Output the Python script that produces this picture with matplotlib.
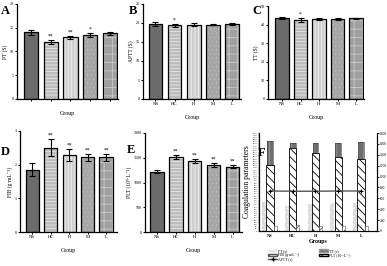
import numpy as np
import matplotlib
matplotlib.use("Agg")
import matplotlib.pyplot as plt
from matplotlib.patches import Patch
from matplotlib.lines import Line2D

plt.rcParams["font.family"] = ["Liberation Serif", "DejaVu Serif"]
plt.rcParams["hatch.linewidth"] = 0.6

groups = ["NS", "HC", "H", "M", "L"]

pt = [14.0, 12.0, 13.0, 13.5, 13.8]
pt_err = [0.5, 0.4, 0.3, 0.4, 0.3]
pt_sig = ["", "**", "**", "*", ""]

aptt = [19.8, 19.4, 19.6, 19.6, 19.7]
aptt_err = [0.5, 0.4, 0.3, 0.2, 0.3]
aptt_sig = ["", "*", "", "", ""]

tt = [43.5, 42.5, 42.8, 43.0, 43.3]
tt_err = [0.5, 1.0, 0.5, 0.5, 0.3]
tt_sig = ["", "*", "", "", ""]

fib = [1.85, 2.5, 2.28, 2.22, 2.22]
fib_err = [0.2, 0.25, 0.18, 0.1, 0.1]
fib_sig = ["", "**", "**", "**", "**"]

plt_cnt = [1220, 1520, 1440, 1360, 1320]
plt_err = [30, 40, 40, 40, 30]
plt_sig = ["", "**", "**", "**", "**"]

# panel F (scaled values as drawn on the combined chart)
f_pt = [530, 460, 490, 510, 515]
f_tt = [1650, 1610, 1610, 1620, 1640]
f_fib = [90, 110, 100, 95, 95]
f_plt = [1220, 1520, 1440, 1360, 1320]
f_aptt = [735, 730, 730, 735, 735]

styles = [
    dict(face="#6b6b6b", hatch=None, hc=None),
    dict(face="#bcbcbc", hatch="-----", hc="#e8e8e8"),
    dict(face="#cfcfcf", hatch="|||||", hc="#f0f0f0"),
    dict(face="#a6a6a6", hatch="....", hc="#b8b8b8"),
    dict(face="#a0a0a0", hatch="++", hc="#c8c8c8"),
]

W, H = 387, 266
fig = plt.figure(figsize=(W / 100, H / 100), dpi=100)


def px_axes(l, t, r, b):
    return fig.add_axes([l / W, 1 - b / H, (r - l) / W, (b - t) / H])


def bar_panel(ax, vals, errs, sigs, ymax, step, ylabel, xlabels=True, lpad=-0.68, rpad=4.45):
    x = np.arange(len(groups))
    for i, v in enumerate(vals):
        s = styles[i]
        if s["hatch"]:
            ax.bar(x[i], v, 0.72, color=s["face"], edgecolor=s["hc"], hatch=s["hatch"], lw=0, zorder=2)
        else:
            ax.bar(x[i], v, 0.72, color=s["face"], lw=0, zorder=2)
        ax.bar(x[i], v, 0.72, fill=False, edgecolor="black", lw=0.9, zorder=3)
    ax.errorbar(x, vals, yerr=errs, fmt="none", ecolor="black", elinewidth=0.8, capsize=2.2, capthick=0.8, zorder=4)
    for i, s in enumerate(sigs):
        if s:
            ax.text(x[i], vals[i] + errs[i] + ymax * 0.015, s, ha="center", va="bottom", fontsize=4)
    ax.set_ylim(0, ymax)
    ax.set_xlim(lpad, rpad)
    ax.set_yticks(np.arange(0, ymax + step / 2, step))
    ax.set_xticks(x)
    if xlabels:
        ax.set_xticklabels(groups)
    else:
        ax.set_xticklabels([])
    for sp in ["top", "right"]:
        ax.spines[sp].set_visible(False)
    for sp in ["left", "bottom"]:
        ax.spines[sp].set_linewidth(0.9)
    ax.tick_params(labelsize=3.0, length=1.6, width=0.7, pad=0.8)
    ax.tick_params(axis="x", labelsize=3.4)
    ax.set_ylabel(ylabel, fontsize=4.0, labelpad=1)
    ax.set_xlabel("Group", fontsize=4.2, labelpad=6)


axA = px_axes(17, 4, 118, 99)
bar_panel(axA, pt, pt_err, pt_sig, 20, 5, "PT (S)", xlabels=False, lpad=-0.7, rpad=4.4)
axB = px_axes(143, 4, 241, 99)
bar_panel(axB, aptt, aptt_err, aptt_sig, 25, 5, "APTT (S)", lpad=-0.65, rpad=4.47)
axC = px_axes(268, 6, 364, 99)
bar_panel(axC, tt, tt_err, tt_sig, 50, 10, "TT (S)", lpad=-0.76, rpad=4.43)
axD = px_axes(20, 131, 117, 232)
bar_panel(axD, fib, fib_err, fib_sig, 3, 1, "FIB (g\u00b7mL\u207b\u00b9)", lpad=-0.67, rpad=4.59)
axE = px_axes(145, 133, 242, 232)
bar_panel(axE, plt_cnt, plt_err, plt_sig, 2000, 500, "PLT (10\u2079\u00b7L\u207b\u00b9)", lpad=-0.62, rpad=4.5)

# panel F
axF = px_axes(259, 133, 377, 231)
x = np.arange(len(groups))
axF.bar(x - 0.26, f_pt, 0.18, color="#dcdcdc", edgecolor="#f4f4f4", hatch="....", lw=0, zorder=2)
axF.bar(x, f_tt, 0.26, color="#6e6e6e", edgecolor="#9a9a9a", hatch="|||", lw=0, zorder=2)
axF.bar(x, f_tt, 0.26, fill=False, edgecolor="#333333", lw=0.4, zorder=2)
axF.bar(x, f_plt, 0.32, color="white", edgecolor="black", hatch="\\\\\\\\", lw=0.6, zorder=3)
axF.bar(x + 0.23, f_fib, 0.13, color="white", edgecolor="#555555", hatch="////", lw=0.4, zorder=3)
axF.plot(x, f_aptt, color="#555555", lw=1.0, marker="+", ms=3, mec="black", mew=0.8, zorder=5)
axF.set_xlim(-0.48, 4.7)
axF.set_ylim(0, 1800)
axF.set_xticks(x)
axF.set_xticklabels(groups, fontweight="bold")
axF.set_yticks(np.arange(0, 1801, 40))
axF.set_yticklabels([str(v) for v in np.arange(0, 1801, 40)])
axF.tick_params(axis="y", labelsize=1.6, length=0.8, width=0.3, pad=0.5)
axF.tick_params(axis="x", labelsize=3.2, length=0, pad=2)
axF.set_ylabel("Coagulation parameters", fontsize=5.5, labelpad=1)
axF.set_xlabel("Groups", fontsize=4.2, fontweight="bold", labelpad=1)
axF.spines["top"].set_visible(False)
for sp in ["left", "bottom", "right"]:
    axF.spines[sp].set_linewidth(0.8)

axR = axF.twinx()
axR.set_ylim(0, 1800)
axR.set_yticks(np.arange(0, 1801, 200))
axR.tick_params(labelsize=2.6, length=1.2, width=0.6, pad=0.6)
axR.spines["top"].set_visible(False)
axR.spines["right"].set_linewidth(0.8)

handles = [
    Patch(facecolor="#dcdcdc", edgecolor="#f4f4f4", hatch="...."),
    Patch(facecolor="white", edgecolor="#555555", hatch="////"),
    Line2D([0], [0], color="#555555", lw=1.0, marker="+", ms=3, mec="black"),
    Patch(facecolor="#6e6e6e", edgecolor="#9a9a9a", hatch="|||"),
    Patch(facecolor="white", edgecolor="black", hatch="\\\\\\\\"),
]
labels = ["PT (s)", "FIB (g\u00b7mL\u207b\u00b9)", "APTT (s)", "TT (s)", "PLT (10\u2079\u00b7L\u207b\u00b9)"]
fig.legend(handles, labels, ncol=2, loc="upper left", bbox_to_anchor=(266 / W, 1 - 247 / H),
           fontsize=2.8, frameon=False, handlelength=2.4, handleheight=0.5,
           labelspacing=0.05, columnspacing=5.0, handletextpad=0.3, borderpad=0)

for lab, (px, py) in zip("ABCDEF", [(1, 5), (129, 5), (252, 5), (1, 146), (127, 144), (258, 147)]):
    fig.text(px / W, 1 - py / H, lab, fontsize=9, fontweight="bold", va="top", ha="left")

fig.savefig("out.png", dpi=100)
